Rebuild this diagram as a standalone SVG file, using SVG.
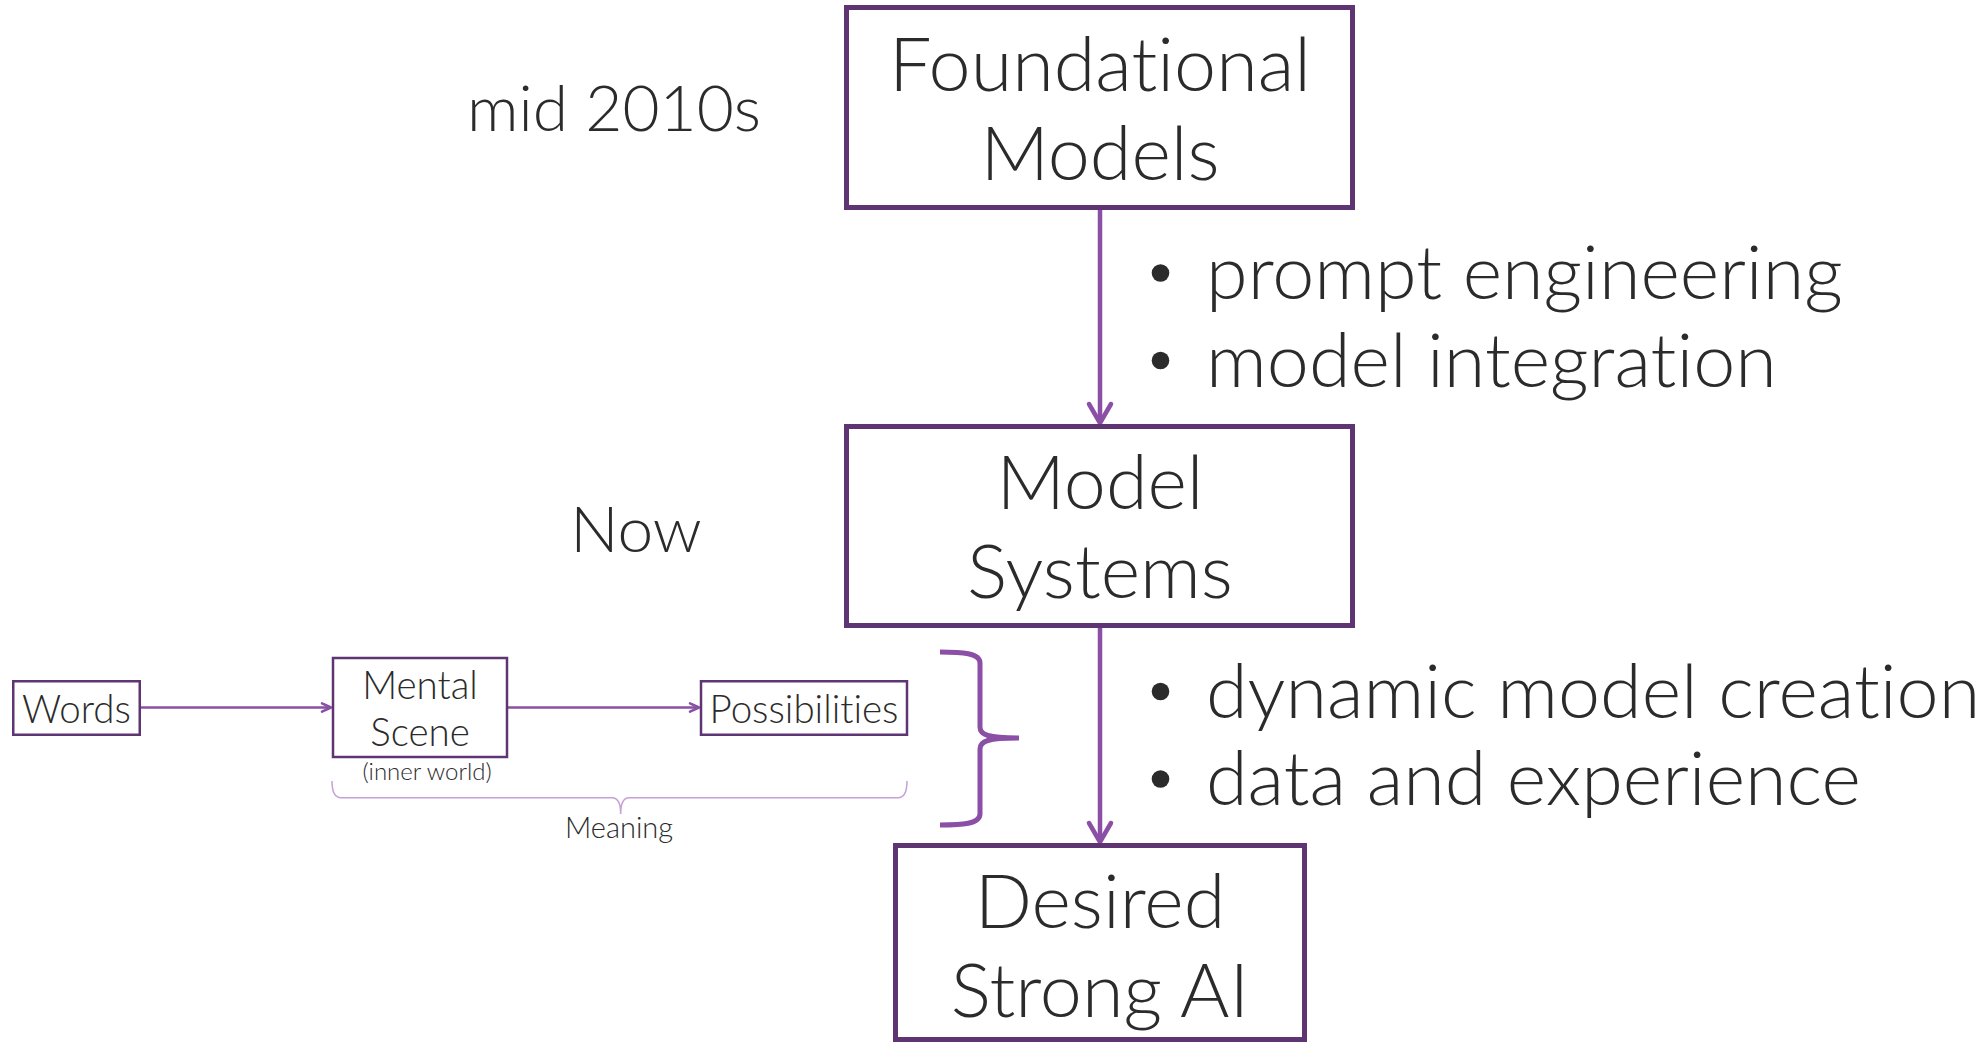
<svg xmlns="http://www.w3.org/2000/svg" width="1980" height="1044" viewBox="0 0 1980 1044">
  <style>
    text { font-family: Lato, "Noto Sans", "Liberation Sans", sans-serif; font-weight: 300; fill: #2b2b2b; font-variant-ligatures: none; font-feature-settings: "liga" 0, "clig" 0; }
    .big { font-size: 75.5px; }
    .era { font-size: 64px; }
    .small { font-size: 38.5px; }
    .note { font-size: 24px; }
    .label { font-size: 29px; }
    .mid { text-anchor: middle; }
    .box { fill: #ffffff; stroke: #5e3473; stroke-width: 5; }
    .sbox { fill: #ffffff; stroke: #5e3473; stroke-width: 2.5; }
    .conn { fill: none; stroke: #8b4fa6; stroke-width: 4.5; stroke-linecap: round; stroke-linejoin: round; }
    .sconn { fill: none; stroke: #8b4fa6; stroke-width: 2.5; stroke-linecap: round; stroke-linejoin: round; }
    .brace { fill: none; stroke: #8b4fa6; stroke-width: 5; stroke-linecap: butt; stroke-linejoin: round; }
    .thin-brace { fill: none; stroke: #c7a0d6; stroke-width: 1.5; }
    .dot { fill: #2b2b2b; }
  </style>

  <rect width="1980" height="1044" fill="#ffffff"/>

  <!-- connectors -->
  <g id="connectors">
    <line class="conn" x1="1100" y1="210" x2="1100" y2="422"/>
    <path class="conn" d="M1089,404 L1100,423 L1111,404"/>
    <line class="conn" x1="1100" y1="628" x2="1100" y2="841"/>
    <path class="conn" d="M1089,823 L1100,842 L1111,823"/>
    <line class="sconn" x1="141" y1="707.5" x2="330" y2="707.5"/>
    <path class="sconn" d="M322,703.3 L331,707.5 L322,711.7"/>
    <line class="sconn" x1="508" y1="707.5" x2="698" y2="707.5"/>
    <path class="sconn" d="M690,703.3 L699,707.5 L690,711.7"/>
  </g>

  <!-- timeline labels -->
  <g id="era-mid2010s">
    <text class="era mid" x="614" y="131">mid 2010s</text>
  </g>
  <g id="era-now">
    <text class="era mid" x="636" y="552">Now</text>
  </g>

  <!-- main stages -->
  <g id="foundational-models">
    <rect class="box" x="846.5" y="7.5" width="506" height="200"/>
    <text class="big mid" x="1100" y="91">Foundational</text>
    <text class="big mid" x="1100" y="180">Models</text>
  </g>
  <g id="model-systems">
    <rect class="box" x="846.5" y="426.5" width="506" height="199"/>
    <text class="big mid" x="1100" y="509">Model</text>
    <text class="big mid" x="1100" y="598">Systems</text>
  </g>
  <g id="desired-strong-ai">
    <rect class="box" x="895.5" y="845.5" width="409" height="194"/>
    <text class="big mid" x="1100" y="928">Desired</text>
    <text class="big mid" x="1100" y="1017">Strong AI</text>
  </g>

  <!-- transition notes -->
  <g id="notes-upper">
    <circle class="dot" cx="1160.5" cy="273" r="8.8"/>
    <text class="big" x="1206" y="299">prompt engineering</text>
    <circle class="dot" cx="1160.5" cy="360.5" r="8.8"/>
    <text class="big" x="1206" y="386.5">model integration</text>
  </g>
  <g id="notes-lower">
    <circle class="dot" cx="1160.5" cy="691.5" r="8.8"/>
    <text class="big" x="1206" y="717.5">dynamic model creation</text>
    <circle class="dot" cx="1160.5" cy="779" r="8.8"/>
    <text class="big" x="1206" y="805">data and experience</text>
  </g>

  <!-- meaning pipeline -->
  <g id="words">
    <rect class="sbox" x="13.25" y="681.25" width="126.5" height="53.5"/>
    <text class="small mid" x="76.5" y="723">Words</text>
  </g>
  <g id="mental-scene">
    <rect class="sbox" x="333" y="658" width="174" height="99"/>
    <text class="small mid" x="420" y="699">Mental</text>
    <text class="small mid" x="420" y="745.5">Scene</text>
    <text class="note mid" x="427" y="780">(inner world)</text>
  </g>
  <g id="possibilities">
    <rect class="sbox" x="701" y="681.25" width="206" height="53.5"/>
    <text class="small mid" x="804" y="723">Possibilities</text>
  </g>
  <g id="meaning">
    <path class="thin-brace" d="M332,781 Q332,797.7 341,797.7 L612,797.7 Q620.7,797.7 620.7,814 Q620.7,797.7 629,797.7 L898,797.7 Q907,797.7 907,781"/>
    <text class="label mid" x="619" y="838">Meaning</text>
  </g>

  <!-- grouping brace -->
  <g id="pipeline-brace">
    <path class="brace" d="M940,652 C962,652 980,653 980,663 L980,727 C980,735 988,738 1019,738 M1019,738 C988,738 980,741 980,749 L980,814 C980,824 962,825 940,825"/>
  </g>
</svg>
